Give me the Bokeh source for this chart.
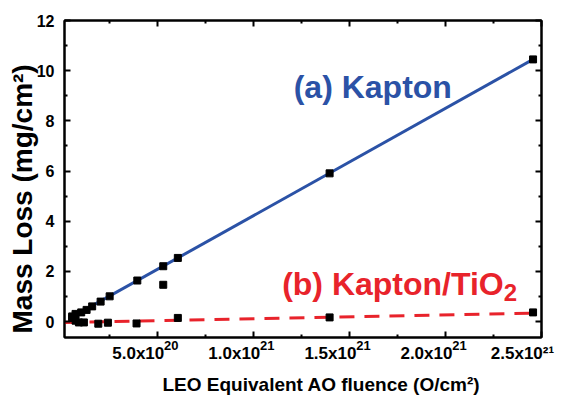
from bokeh.plotting import figure
from bokeh.models import Label, LinearAxis, FixedTicker, Range1d, Title
from bokeh.embed import file_html
from bokeh.resources import INLINE

# ---------------- data ----------------
kapton_x = [0.57e20, 0.745e20, 1.04e20, 1.32e20, 1.61e20, 2.05e20, 2.52e20,
            3.96e20, 5.31e20, 5.31e20, 6.07e20, 1.397e21, 2.456e21]
kapton_y = [0.21, 0.31, 0.37, 0.47, 0.61, 0.80, 1.01,
            1.64, 2.21, 1.47, 2.54, 5.91, 10.45]

tio2_x = [0.57e20, 0.745e20, 0.92e20, 1.18e20, 1.93e20, 2.43e20,
          3.92e20, 6.07e20, 1.397e21, 2.456e21]
tio2_y = [0.15, 0.04, -0.03, -0.03, -0.08, -0.04,
          -0.07, 0.15, 0.17, 0.37]

# fitted lines (end points)
kapton_fit_x = [0.55e20, 2.456e21]
kapton_fit_y = [0.18, 10.45]
tio2_fit_x = [1.7e19, 2.456e21]
tio2_fit_y = [-0.03, 0.34]

x_ticks = [5e20, 1e21, 1.5e21, 2e21, 2.5e21]
x_minor = [2.5e20, 7.5e20, 1.25e21, 1.75e21, 2.25e21]
# the last exponent would fall right of the frame, so it is written inline
x_tick_base = ["5.0x10", "1.0x10", "1.5x10", "2.0x10", "2.5x10\u00b2\u00b9"]
x_tick_exp = ["20", "21", "21", "21", ""]
y_ticks = [0, 2, 4, 6, 8, 10, 12]
y_minor = [1, 3, 5, 7, 9, 11]

x_title = "LEO Equivalent AO fluence (O/cm\u00b2)"
y_title = "Mass Loss (mg/cm\u00b2)"
label_a = "(a) Kapton"
label_b = "(b) Kapton/TiO"
label_b_sub = "2"

# ---------------- styles ----------------
FONT = "Liberation Sans"
BLUE = "#2B52A6"
RED = "#E8232B"
X_START, X_END = 1.7e19, 2.5e21
PX = (X_END - X_START) / 477.0          # data units per screen pixel
BASE_SHIFT = 19 * PX                    # mantissa labels sit left of ticks
EXP_SHIFT = -14 * PX                    # exponents sit right of ticks

p = figure(width=563, height=400, output_backend="svg", toolbar_location=None,
           x_range=Range1d(X_START, X_END), y_range=Range1d(-0.63, 12.0),
           min_border_left=64, min_border_right=22, min_border_top=20,
           min_border_bottom=63)
p.extra_x_ranges = {
    "base": Range1d(X_START + BASE_SHIFT, X_END + BASE_SHIFT),
    "exp": Range1d(X_START + EXP_SHIFT, X_END + EXP_SHIFT),
}
p.grid.visible = False
p.outline_line_color = "black"
p.outline_line_width = 2
p.background_fill_color = "white"
p.border_fill_color = "white"


def style_axis(ax, ticks, minor):
    ax.ticker = FixedTicker(ticks=ticks, minor_ticks=minor)
    ax.axis_line_color = "black"
    ax.axis_line_width = 2
    ax.major_tick_line_color = "black"
    ax.major_tick_line_width = 2
    ax.minor_tick_line_color = "black"
    ax.minor_tick_line_width = 2
    ax.major_tick_in = 6
    ax.major_tick_out = 0
    ax.minor_tick_in = 3
    ax.minor_tick_out = 0


def hide_labels(ax, ticks):
    ax.major_label_overrides = {t: "" for t in ticks}
    ax.major_label_text_font_size = "1px"
    ax.major_label_standoff = 0


def label_axis(range_name, texts, size, standoff):
    ax = LinearAxis(x_range_name=range_name)
    ax.ticker = FixedTicker(ticks=x_ticks, minor_ticks=[])
    ax.axis_line_color = None
    ax.major_tick_line_color = None
    ax.minor_tick_line_color = None
    ax.major_tick_in = 0
    ax.major_tick_out = 0
    ax.minor_tick_in = 0
    ax.minor_tick_out = 0
    ax.major_label_overrides = dict(zip(x_ticks, texts))
    ax.major_label_text_font = FONT
    ax.major_label_text_font_style = "bold"
    ax.major_label_text_font_size = size
    ax.major_label_text_color = "black"
    ax.major_label_standoff = standoff
    return ax


xa = p.xaxis[0]
style_axis(xa, x_ticks, x_minor)
hide_labels(xa, x_ticks)

ya = p.yaxis[0]
style_axis(ya, y_ticks, y_minor)
ya.major_label_text_font = FONT
ya.major_label_text_font_style = "bold"
ya.major_label_text_font_size = "16px"
ya.major_label_text_color = "black"
ya.major_label_standoff = 10

top = LinearAxis()
style_axis(top, x_ticks, x_minor)
hide_labels(top, x_ticks)
p.add_layout(top, "above")

right = LinearAxis()
style_axis(right, y_ticks, y_minor)
hide_labels(right, y_ticks)
p.add_layout(right, "right")

# exponent labels (superscripts) first, then mantissas slightly lower
p.add_layout(label_axis("exp", x_tick_exp, "13px", 3), "below")
p.add_layout(label_axis("base", x_tick_base, "17px", -9), "below")

# axis titles
p.add_layout(Title(text=x_title, align="left", offset=98, standoff=12,
                   text_font=FONT, text_font_style="bold",
                   text_font_size="19px", text_color="black"), "below")
p.add_layout(Title(text=y_title, align="left", offset=4, standoff=-9,
                   text_font=FONT, text_font_style="bold",
                   text_font_size="28px", text_color="black"), "left")

# ---------------- glyphs ----------------
p.line(kapton_fit_x, kapton_fit_y, line_color=BLUE, line_width=3)
p.line(tio2_fit_x, tio2_fit_y, line_color=RED, line_width=3, line_dash="15 10")
p.scatter(kapton_x, kapton_y, marker="square", size=7, color="black")
p.scatter(tio2_x, tio2_y, marker="square", size=7, color="black")

# ---------------- annotations ----------------
p.add_layout(Label(x=1.21e21, y=9.36, text=label_a, text_align="left",
                   text_baseline="alphabetic", text_font=FONT,
                   text_font_style="bold", text_font_size="32px",
                   text_color=BLUE))
p.add_layout(Label(x=2.3035e21, y=1.506, text=label_b, text_align="right",
                   text_baseline="alphabetic", text_font=FONT,
                   text_font_style="bold", text_font_size="32px",
                   text_color=RED))
p.add_layout(Label(x=2.3035e21, y=1.17, text=label_b_sub, text_align="left",
                   text_baseline="alphabetic", text_font=FONT,
                   text_font_style="bold", text_font_size="24px",
                   text_color=RED))

open("out.html", "w").write(file_html(p, INLINE))
